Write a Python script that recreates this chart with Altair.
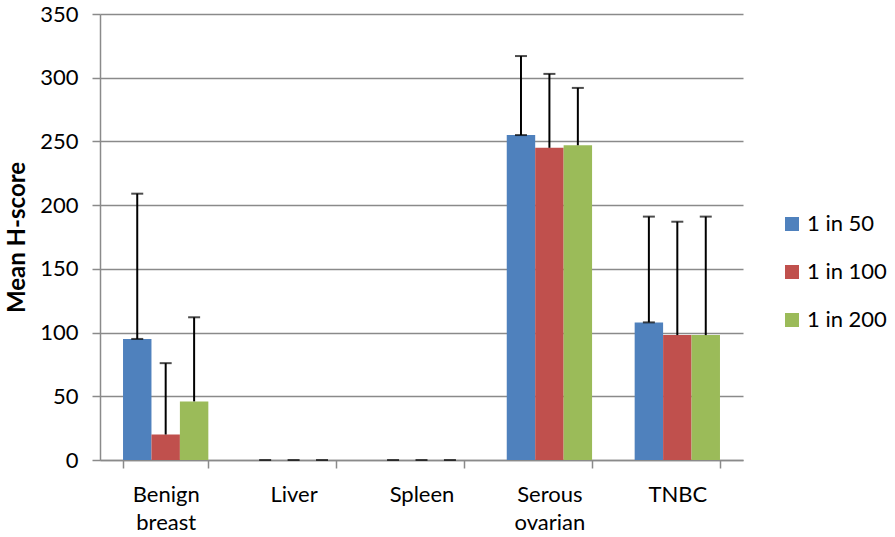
import altair as alt
import pandas as pd

categories = ["Benign breast", "Liver", "Spleen", "Serous ovarian", "TNBC"]
series = ["1 in 50", "1 in 100", "1 in 200"]
colors = ["#4F81BD", "#C0504D", "#9BBB59"]

mean_1_50 = [95, 0, 0, 255, 108]
mean_1_100 = [20, 0, 0, 245, 98]
mean_1_200 = [46, 0, 0, 247, 98]

err_1_50 = [114, 0, 0, 62, 83]
err_1_100 = [56, 0, 0, 58, 89]
err_1_200 = [66, 0, 0, 45, 93]

rows = []
for s, means, errs in zip(series, [mean_1_50, mean_1_100, mean_1_200], [err_1_50, err_1_100, err_1_200]):
    for c, m, e in zip(categories, means, errs):
        rows.append({"category": c, "series": s, "value": m, "upper": m + e})
df = pd.DataFrame(rows)

FONT = "Lato"
GRID = "#8a8a8a"
FS = 22

x = alt.X(
    "category:N",
    sort=categories,
    scale=alt.Scale(paddingInner=0.333, paddingOuter=0.18),
    axis=alt.Axis(
        title=None,
        labelAngle=0,
        tickBand="extent",
        labelExpr="split(datum.label, ' ')",
        labelFont=FONT,
        labelFontSize=FS,
        labelColor="#000000",
        labelLineHeight=28,
        labelPadding=16,
        tickSize=8,
        tickColor=GRID,
        tickWidth=1.5,
        domainColor=GRID,
        domainWidth=1.5,
        grid=False,
    ),
)
xo = alt.XOffset("series:N", sort=series)

y_axis = alt.Axis(
    title="Mean H-score",
    titleFont=FONT,
    titleFontSize=24,
    titleFontWeight="bold",
    titleColor="#000000",
    titlePadding=10,
    values=[0, 50, 100, 150, 200, 250, 300, 350],
    labelFont=FONT,
    labelFontSize=FS,
    labelColor="#000000",
    labelPadding=14,
    tickSize=8,
    tickColor=GRID,
    tickWidth=1.5,
    domainColor=GRID,
    domainWidth=1.5,
    gridColor=GRID,
    gridWidth=1.5,
)
y_scale = alt.Scale(domain=[0, 350], nice=False)

base = alt.Chart(df)

bars = base.mark_bar(strokeWidth=0).encode(
    x=x,
    xOffset=xo,
    y=alt.Y("value:Q", scale=y_scale, axis=y_axis),
    color=alt.Color(
        "series:N",
        sort=series,
        scale=alt.Scale(domain=series, range=colors),
        legend=alt.Legend(
            title=None,
            orient="none",
            legendX=681,
            legendY=199,
            symbolType="square",
            symbolSize=196,
            symbolStrokeWidth=0,
            labelFont=FONT,
            labelFontSize=FS,
            labelColor="#000000",
            labelOffset=4,
            rowPadding=26,
        ),
    ),
)

err_rule = base.mark_rule(color="black", strokeWidth=2).encode(
    x=x, xOffset=xo, y=alt.Y("value:Q"), y2="upper:Q"
)

cap_top = base.mark_tick(color="black", thickness=2, size=12).encode(
    x=x, xOffset=xo, y=alt.Y("upper:Q")
)

cap_low = base.transform_filter(
    (alt.datum.series == "1 in 50") & (alt.datum.value > 0)
).mark_tick(color="black", thickness=2, size=12).encode(
    x=x, xOffset=xo, y=alt.Y("value:Q")
)

chart = (
    alt.layer(bars, err_rule, cap_top, cap_low)
    .properties(
        width=643,
        height=446,
        autosize=alt.AutoSizeParams(type="none"),
        padding={"left": 100, "top": 14, "right": 152, "bottom": 77},
        background="white",
    )
    .configure_view(stroke=None)
)

chart.save("out.html", embed_options={"renderer": "svg", "actions": False})
